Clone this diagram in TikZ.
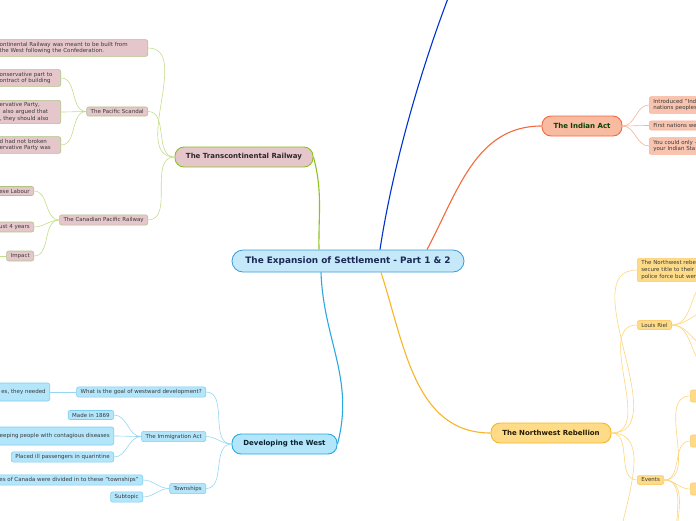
\documentclass[tikz,border=0pt]{standalone}
\usepackage{fontspec}
\setmainfont{DejaVu Sans}
\definecolor{mainfill}{HTML}{C6E9FA}
\definecolor{maindraw}{HTML}{3A9AD9}
\definecolor{maintext}{HTML}{1B2A55}
\definecolor{railfill}{HTML}{E5C6CB}
\definecolor{raildraw}{HTML}{8DC21F}
\definecolor{raillink}{HTML}{C3DD8C}
\definecolor{actfill}{HTML}{F8BAA1}
\definecolor{actdraw}{HTML}{F26A3D}
\definecolor{actlink}{HTML}{F7B196}
\definecolor{rebfill}{HTML}{FEDB87}
\definecolor{rebdraw}{HTML}{F8B526}
\definecolor{reblink}{HTML}{FDD57D}
\definecolor{westfill}{HTML}{B3E5FB}
\definecolor{westdraw}{HTML}{29A9E0}
\definecolor{westlink}{HTML}{96D6F3}
\definecolor{leaftext}{HTML}{3A3A3A}
\begin{document}
\begin{tikzpicture}[x=1pt,y=-1pt,
   topic/.style={draw,line width=0.9pt,rounded corners=9pt,minimum height=20pt,
     font=\fontsize{7}{8}\selectfont\bfseries},
   leaf/.style={draw,line width=0.6pt,rounded corners=2pt,align=left,inner xsep=4pt,
     inner ysep=2.4pt,text=leaftext,font=\fontsize{5.5}{6.6}\selectfont},
   railleaf/.style={leaf,fill=railfill,draw=raillink!85!black!90},
   actleaf/.style={leaf,fill=actfill!85!white,draw=actlink},
   rebleaf/.style={leaf,fill=rebfill,draw=reblink!90!orange},
   westleaf/.style={leaf,fill=westfill,draw=westlink!80!westdraw},
   link/.style={line width=0.6pt}]
   \useasboundingbox (0,0) rectangle (696,520);
   \clip (0,0) rectangle (696,520);
   % central topic
   \node [draw=maindraw,fill=mainfill,line width=0.8pt,rounded corners=11pt,minimum width=232pt,
     minimum height=22pt,text=maintext,font=\fontsize{8.9}{10}\selectfont\bfseries] (ctr) at (348,261)
     {The Expansion of Settlement - Part 1 \& 2};
   % main topics
   \node [topic,fill=railfill,draw=raildraw,text=railfill!20!black,minimum width=138pt] (rail) at (244,157) {The Transcontinental Railway};
   \node [topic,fill=actfill,draw=actdraw,text=actdraw!10!black!60!green!60!black,minimum width=80pt] (act) at (582,126) {The Indian Act};
   \node [topic,fill=rebfill,draw=rebdraw,text=rebdraw!15!black,minimum width=120pt] (reb) at (551,433) {The Northwest Rebellion};
   \node [topic,fill=westfill,draw=westdraw,text=westdraw!20!black,minimum width=105pt] (west) at (284.5,444) {Developing the West};
   \coordinate (hidden) at (452,-12);
   \draw [raildraw,line width=1.1pt] ([xshift=-29pt]ctr.north) to[out=91,in=-75] (rail.east);
   \draw [blue!75!cyan!80!black,line width=1.1pt] ([xshift=32pt]ctr.north) .. controls (392,170) and (420,70) .. (hidden);
   \draw [actdraw,line width=1.1pt] ([xshift=79pt]ctr.north) to[out=62,in=180] (act.west);
   \draw [rebdraw,line width=1.1pt] ([xshift=33pt]ctr.south) to[out=-72,in=180] (reb.west);
   \draw [westdraw,line width=1.1pt] ([xshift=-27pt]ctr.south) to[out=-88,in=75] (west.east);

   % The Transcontinental Railway
   \node [railleaf,anchor=east,text width=144pt] (built) at (148,48) {ontinental Railway was meant to be built from\\the West following the Confederation.};
   \node [railleaf,anchor=east] (scandal) at (148,111.5) {The Pacific Scandal};
   \node [railleaf,anchor=east,text width=57pt] (sc1) at (61,78) {onservative part to\\ontract of building};
   \node [railleaf,anchor=east,text width=57pt] (sc2) at (61,112) {ervative Party,\\\hspace*{3pt}also argued that\\, they should also};
   \node [railleaf,anchor=east,text width=57pt] (sc3) at (61,145) {d had not broken\\ervative Party was};
   \node [railleaf,anchor=east] (cpr) at (148,220) {The Canadian Pacific Railway};
   \node [railleaf,anchor=east] (labour) at (34,191) {ese Labour};
   \node [railleaf,anchor=east] (years) at (34,227) {ust 4 years};
   \node [railleaf,anchor=east] (impact) at (34,256) {Impact};
   \coordinate (impactmore) at (-20,256);
   \foreach \n in {built,scandal,cpr}
     \draw [raillink,link] (rail.west) to[out=180,in=0] (\n.east);
   \foreach \n in {sc1,sc2,sc3}
     \draw [raillink,link] (scandal.west) to[out=180,in=0] (\n.east);
   \foreach \n in {labour,years,impact}
     \draw [raillink,link] (cpr.west) to[out=180,in=0] (\n.east);
   \draw [raillink,link] (impact.west) -- (impactmore);

   % The Indian Act
   \node [actleaf,anchor=west,text width=80pt] (introduced) at (649,105) {Introduced "Ind\\nations peoples};
   \node [actleaf,anchor=west,text width=80pt] (firstnations) at (649,125.5) {First nations we};
   \node [actleaf,anchor=west,text width=80pt] (couldonly) at (649,146) {You could only -\\your Indian Sta};
   \foreach \n in {introduced,firstnations,couldonly}
     \draw [actlink,link] (act.east) to[out=0,in=180] (\n.west);

   % The Northwest Rebellion
   \node [rebleaf,anchor=west,text width=80pt] (rebels) at (637,270) {The Northwest rebe\\secure title to their\\police force but wer};
   \node [rebleaf,anchor=west] (riel) at (637,325) {Louis Riel};
   \node [rebleaf,anchor=west] (events) at (637,480) {Events};
   \coordinate (rebmore) at (637,600);
   \foreach \n in {rebels,riel,events}
     \draw [reblink,link] (reb.east) to[out=0,in=180] (\n.west);
   \draw [reblink,link] (reb.east) to[out=0,in=180] (rebmore);
   \foreach \y [count=\i] in {280,310,348,368} {
     \coordinate (riel\i) at (712,\y);
     \draw [reblink,link] (riel.east) to[out=0,in=180] (riel\i);
   }
   \foreach \y [count=\i] in {396,441,489} {
     \node [rebleaf,anchor=west,minimum width=20pt,minimum height=12pt] (event\i) at (690,\y) {};
     \draw [reblink,link] (events.east) to[out=0,in=180] (event\i.west);
   }
   \foreach \y [count=\i] in {555,575} {
     \coordinate (eventmore\i) at (690,\y);
     \draw [reblink,link] (events.east) to[out=0,in=180] (eventmore\i);
   }

   % Developing the West
   \node [westleaf,anchor=east] (goal) at (206,392) {What is the goal of westward development?};
   \node [westleaf,anchor=east,minimum height=18pt] (needed) at (50,392) {es, they needed};
   \node [westleaf,anchor=east] (immigration) at (206,436.5) {The Immigration Act};
   \node [westleaf,anchor=east] (made) at (114,415) {Made in 1869};
   \node [westleaf,anchor=east,minimum height=18pt] (keeping) at (114,436) {eeping people with contagious diseases};
   \node [westleaf,anchor=east] (placed) at (114,457) {Placed ill passengers in quarintine};
   \node [westleaf,anchor=east] (townships) at (206,488.5) {Townships};
   \node [westleaf,anchor=east] (divided) at (143,480) {es of Canada were divided in to these "townships"};
   \node [westleaf,anchor=east] (subtopic) at (143,497) {Subtopic};
   \foreach \n in {goal,immigration,townships}
     \draw [westlink,link] (west.west) to[out=180,in=0] (\n.east);
   \draw [westlink,link] (goal.west) -- (needed.east);
   \foreach \n in {made,keeping,placed}
     \draw [westlink,link] (immigration.west) to[out=180,in=0] (\n.east);
   \foreach \n in {divided,subtopic}
     \draw [westlink,link] (townships.west) to[out=180,in=0] (\n.east);
\end{tikzpicture}
\end{document}
